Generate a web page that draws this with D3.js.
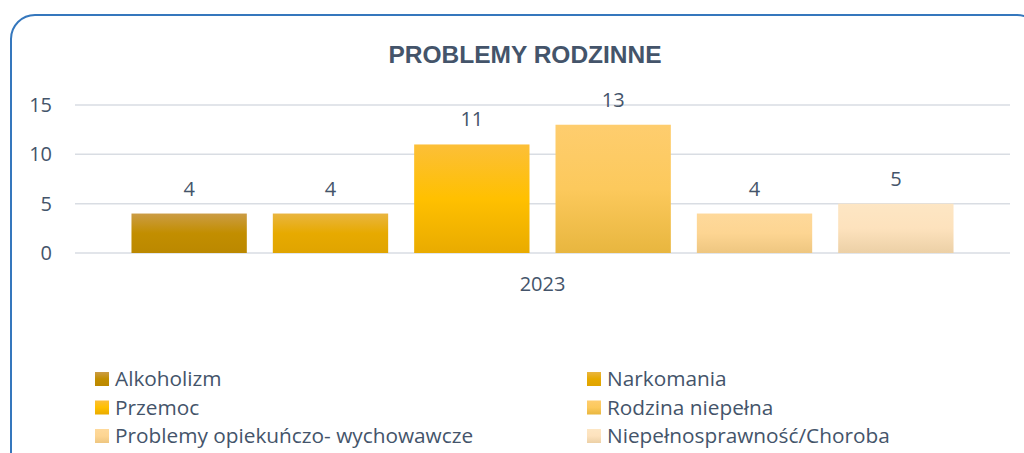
<!DOCTYPE html>
<html>
<head>
<meta charset="utf-8">
<script src="https://cdn.jsdelivr.net/npm/d3@7"></script>
<style>
  body { margin: 0; background: #fff; }
  svg { display: block; font-family: "Open Sans", "Liberation Sans", Arial, sans-serif; }
</style>
</head>
<body>
<div id="chart"></div>
<script>
(function () {

  const categories = ['2023']
  const seriesNames = ['Alkoholizm', 'Narkomania', 'Przemoc', 'Rodzina niepełna',
    'Problemy opiekuńczo- wychowawcze', 'Niepełnosprawność/Choroba']
  const values2023 = [4, 4, 11, 13, 4, 5]
  const yTicks = [0, 5, 10, 15]

  // top / middle / bottom of each bar gradient
  const barColors = [
    ['#cb9c45', '#c28e00', '#bb8800'],
    ['#e9b540', '#e7aa00', '#e0a400'],
    ['#fcbf38', '#ffc000', '#e9ab00'],
    ['#fecd6e', '#fcc95c', '#e8b63f'],
    ['#fed99b', '#fdd592', '#eec680'],
    ['#fde6c4', '#fde2bd', '#ecd0a6']
  ]

  const W = 1024, H = 453
  const textColor = '#44546a'
  const labelFont = '"Open Sans", "Liberation Sans", Arial, sans-serif'

  const svg = d3.select('#chart').append('svg')
    .attr('width', W)
    .attr('height', H)

  const defs = svg.append('defs')
  barColors.forEach((c, i) => {
    const g = defs.append('linearGradient')
      .attr('id', 'grad' + i)
      .attr('x1', 0).attr('y1', 0).attr('x2', 0).attr('y2', 1)
    g.append('stop').attr('offset', '0%').attr('stop-color', c[0])
    g.append('stop').attr('offset', '50%').attr('stop-color', c[1])
    g.append('stop').attr('offset', '100%').attr('stop-color', c[2])
  })

  // frame
  svg.append('rect')
    .attr('x', 11).attr('y', 15)
    .attr('width', 1030).attr('height', 500)
    .attr('rx', 24).attr('ry', 24)
    .attr('fill', 'none')
    .attr('stroke', '#3577bd')
    .attr('stroke-width', 2)

  svg.append('text')
    .attr('x', 525)
    .attr('y', 63)
    .attr('text-anchor', 'middle')
    .attr('font-family', '"Liberation Sans", Arial, sans-serif')
    .attr('font-size', 24.5)
    .attr('font-weight', 'bold')
    .attr('fill', textColor)
    .text('PROBLEMY RODZINNE')

  const left = 75, right = 1010
  const yScale = d3.scaleLinear()
    .domain([0, 15])
    .range([253, 105])

  const x0 = d3.scaleBand()
    .domain(categories)
    .range([left, right])
    .paddingInner(0)
    .paddingOuter(0.0687)

  const x1 = d3.scaleBand()
    .domain(seriesNames)
    .range([0, x0.bandwidth()])
    .paddingInner(0.184)
    .paddingOuter(0)

  // gridlines
  svg.append('g')
    .selectAll('line')
    .data(yTicks)
    .join('line')
    .attr('x1', left).attr('x2', right)
    .attr('y1', d => yScale(d)).attr('y2', d => yScale(d))
    .attr('stroke', '#d9dde3')
    .attr('stroke-width', 1.5)

  const yAxis = d3.axisLeft(yScale).tickValues(yTicks).tickSize(0).tickPadding(0)
  svg.append('g')
    .attr('class', 'axis y-axis')
    .attr('transform', 'translate(52,0)')
    .call(yAxis)
    .call(g => g.select('.domain').remove())
    .selectAll('text')
    .attr('font-size', 20)
    .attr('font-family', labelFont)
    .attr('fill', textColor)

  const xAxis = d3.axisBottom(x0).tickSize(0).tickPadding(0)
  svg.append('g')
    .attr('class', 'axis x-axis')
    .attr('transform', 'translate(0,277)')
    .call(xAxis)
    .call(g => g.select('.domain').remove())
    .selectAll('text')
    .attr('font-size', 20)
    .attr('font-family', labelFont)
    .attr('fill', textColor)

  const rows = []
  categories.forEach(cat => {
    seriesNames.forEach((s, i) => rows.push({ cat: cat, name: s, i: i, value: values2023[i] }))
  })

  const bars = svg.append('g')
  bars.selectAll('rect')
    .data(rows)
    .join('rect')
    .attr('x', d => x0(d.cat) + x1(d.name))
    .attr('width', x1.bandwidth())
    .attr('y', d => yScale(d.value))
    .attr('height', d => yScale(0) - yScale(d.value))
    .attr('fill', d => 'url(#grad' + d.i + ')')

  bars.selectAll('text')
    .data(rows)
    .join('text')
    .attr('x', d => x0(d.cat) + x1(d.name) + x1.bandwidth() / 2)
    .attr('y', d => yScale(d.value) - 18)
    .attr('text-anchor', 'middle')
    .attr('font-size', 20)
    .attr('fill', textColor)
    .text(d => d.value)

  // legend, two columns
  const legend = svg.append('g')
  const items = legend.selectAll('g')
    .data(seriesNames)
    .join('g')
    .attr('transform', (d, i) => 'translate(' + (i % 2 === 0 ? 95 : 587) + ',' + (372 + Math.floor(i / 2) * 28.5) + ')')

  items.append('rect')
    .attr('width', 14).attr('height', 14)
    .attr('fill', (d, i) => 'url(#grad' + i + ')')

  items.append('text')
    .attr('x', 20)
    .attr('y', 14)
    .attr('font-size', 20.8)
    .attr('fill', textColor)
    .text(d => d)

})();
</script>
</body>
</html>
